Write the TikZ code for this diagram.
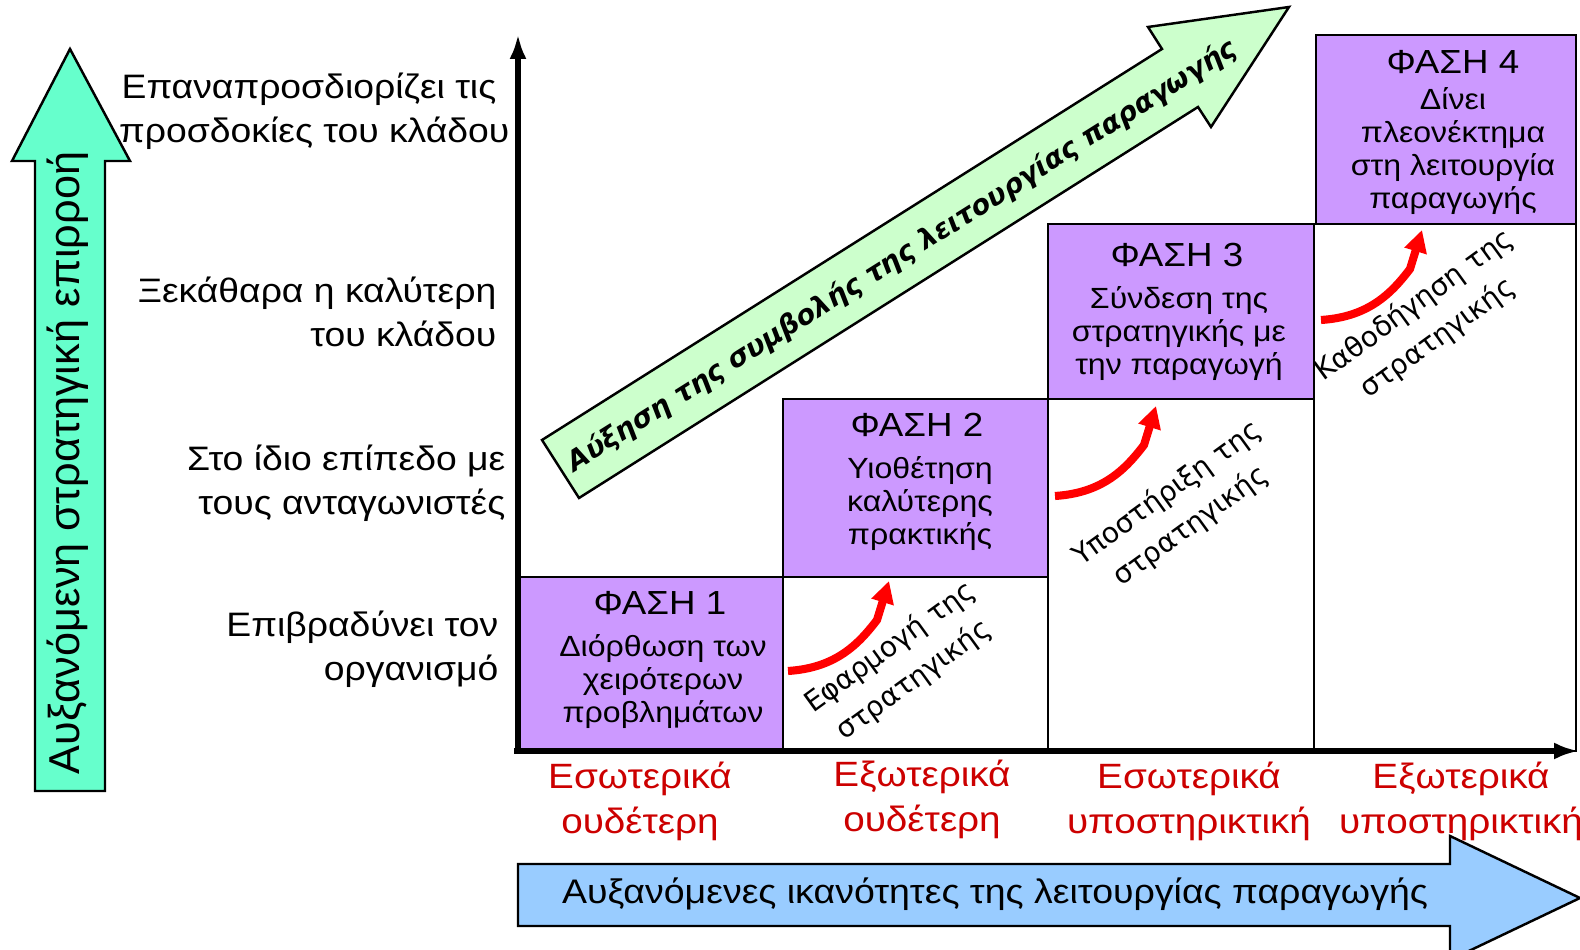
\documentclass[tikz,border=0pt]{standalone}
\usepackage{fontspec}
\setmainfont{Liberation Sans}[FakeStretch=1.1]
\newfontfamily\plainsans{Liberation Sans}
\newfontfamily\verdsans{DejaVu Sans}
\usepackage{pgf,tikz}
\usetikzlibrary{arrows.meta}

\definecolor{phasepurple}{HTML}{CC99FF}
\definecolor{influencegreen}{HTML}{66FFCC}
\definecolor{contribgreen}{HTML}{CCFFCC}
\definecolor{capblue}{HTML}{99CCFF}
\definecolor{labelred}{HTML}{CC0000}

\begin{document}
\begin{tikzpicture}[x=0.1mm, y=-0.1mm, line join=miter,
    phasebox/.style={draw=black, line width=0.7pt, fill=phasepurple},
    emptybox/.style={draw=black, line width=0.7pt, fill=white},
    bigarrow/.style={draw=black, line width=0.7pt},
    phasetitle/.style={inner sep=0pt, font=\fontsize{9.5}{10}\selectfont},
    phasetext/.style={inner sep=0pt, align=center, font=\fontsize{8.3}{9.4}\selectfont},
    levellabel/.style={inner sep=0pt, anchor=east, align=right, font=\fontsize{9.65}{12.5}\selectfont},
    stagelabel/.style={inner sep=0pt, align=center, rotate=36, font=\verdsans\fontsize{8}{11.5}\selectfont},
    supportlabel/.style={inner sep=0pt, text=labelred, align=center, font=\fontsize{10}{12.8}\selectfont},
    redcurve/.style={draw=red, line width=2.3pt, -{Triangle[length=2.2mm, width=2.2mm]}},
    axisline/.style={line width=1.8pt, -{Latex[length=2.5mm, width=1.7mm]}}]
  \useasboundingbox (0,0) rectangle (1580,950);

  % phase columns
  \draw[phasebox] (518,577) rectangle (783,751);
  \draw[emptybox] (783,577) rectangle (1048,751);
  \draw[phasebox] (783,399) rectangle (1048,577);
  \draw[emptybox] (1048,399) rectangle (1314,751);
  \draw[phasebox] (1048,224) rectangle (1314,399);
  \draw[emptybox] (1314,224) rectangle (1576,751);
  \draw[phasebox] (1316,35) rectangle (1576,224);

  % axes
  \coordinate (origin) at (518,751);
  \coordinate (ytop) at (518,34);
  \coordinate (xend) at (1579,751);
  \draw[axisline] (518,754) -- (ytop);
  \draw[axisline] (514,751) -- (xend);

  % big arrows
  \draw[bigarrow, fill=influencegreen] (35,791) -- (35,161) -- (12,161) -- (70,49)
    -- (130,161) -- (105,161) -- (105,791) -- cycle;
  \node (influence) [rotate=90, inner sep=0pt, font=\plainsans\fontsize{12.3}{14}\selectfont]
    at (68,463) {Αυξανόμενη στρατηγική επιρροή};

  \draw[bigarrow, fill=contribgreen] (542,440) -- (1162,49) -- (1148,27) -- (1289,7)
    -- (1211,127) -- (1198,107) -- (579,498) -- cycle;
  \node (contribution) [rotate=32.2, inner sep=0pt, font=\verdsans\bfseries\itshape\fontsize{7.85}{10}\selectfont]
    at (902,256) {Αύξηση της συμβολής της λειτουργίας παραγωγής};

  \draw[bigarrow, fill=capblue] (518,864) -- (1450,864) -- (1450,836) -- (1580,898)
    -- (1450,960) -- (1450,926) -- (518,926) -- cycle;
  \node (capability) [inner sep=0pt, font=\fontsize{9.7}{12}\selectfont]
    at (995,894) {Αυξανόμενες ικανότητες της λειτουργίας παραγωγής};

  % level labels
  \node (lvlD) [levellabel] at (510,111) {Επαναπροσδιορίζει τις\hspace*{1.3mm}\\προσδοκίες του κλάδου};
  \node (lvlC) [levellabel] at (497,312) {Ξεκάθαρα η καλύτερη\\του κλάδου};
  \node (lvlB) [levellabel] at (506,483) {Στο ίδιο επίπεδο με\\τους ανταγωνιστές};
  \node (lvlA) [levellabel] at (499,649) {Επιβραδύνει τον\\οργανισμό};

  % phase texts
  \node (phA) [phasetitle] at (660,603) {ΦΑΣΗ 1};
  \node (phAtxt) [phasetext] at (663,682) {Διόρθωση των\\χειρότερων\\προβλημάτων};
  \node (phB) [phasetitle] at (917,425) {ΦΑΣΗ 2};
  \node (phBtxt) [phasetext] at (920,504) {Υιοθέτηση\\καλύτερης\\πρακτικής};
  \node (phC) [phasetitle] at (1177,255) {ΦΑΣΗ 3};
  \node (phCtxt) [phasetext] at (1179,334) {Σύνδεση της\\στρατηγικής με\\την παραγωγή};
  \node (phD) [phasetitle] at (1453,62) {ΦΑΣΗ 4};
  \node (phDtxt) [phasetext] at (1453,151) {Δίνει\\πλεονέκτημα\\στη λειτουργία\\παραγωγής};

  % stage arrows
  \foreach \dx/\dy in {0/0, 267/-175, 533/-351}
    \draw[redcurve, shift={(\dx,\dy)}] (788,671) .. controls (835,668) and (858,645) .. (877,620) -- (889,581);
  \node (stA) [stagelabel] at (902,664) {Εφαρμογή της\\στρατηγικής};
  \node (stB) [stagelabel] at (1179,510) {Υποστήριξη της\\στρατηγικής};
  \node (stC) [stagelabel] at (1426,322) {Καθοδήγηση της\\στρατηγικής};

  % support labels
  \node (supA) [supportlabel] at (640,801) {Εσωτερικά\\ουδέτερη};
  \node (supB) [supportlabel] at (922,799) {Εξωτερικά\\ουδέτερη};
  \node (supC) [supportlabel] at (1189,801) {Εσωτερικά\\υποστηρικτική};
  \node (supD) [supportlabel] at (1461,801) {Εξωτερικά\\υποστηρικτική};
\end{tikzpicture}
\end{document}
